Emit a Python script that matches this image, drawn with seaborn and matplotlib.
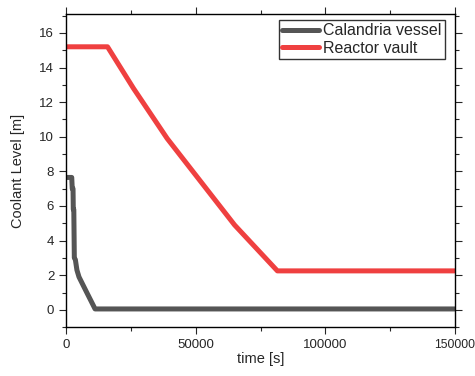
import matplotlib
matplotlib.use("Agg")
import matplotlib.pyplot as plt
import seaborn as sns
import pandas as pd
from matplotlib.ticker import MultipleLocator

sns.set_style("ticks")
plt.rcParams['font.family'] = ['Liberation Sans', 'DejaVu Sans']

cal_t = [0, 2200, 2400, 2700, 2800, 3000, 3200, 3600, 4200, 5000, 8000, 11200, 150000]
cal_y = [7.65, 7.65, 7.0, 7.0, 5.8, 5.8, 3.0, 2.9, 2.3, 1.9, 1.0, 0.05, 0.05]
vault_t = [0, 16000, 26000, 39000, 52000, 65000, 81500, 150000]
vault_y = [15.2, 15.2, 12.8, 9.9, 7.4, 4.9, 2.25, 2.25]

df = pd.concat([
    pd.DataFrame({"time": cal_t, "level": cal_y, "series": "Calandria vessel"}),
    pd.DataFrame({"time": vault_t, "level": vault_y, "series": "Reactor vault"}),
])

fig = plt.figure(figsize=(4.75, 3.76), dpi=100)
ax = fig.add_axes([0.139, 0.130, 0.819, 0.833])
sns.lineplot(data=df, x="time", y="level", hue="series",
             palette={"Calandria vessel": "#555555", "Reactor vault": "#ef4040"},
             linewidth=3.6, ax=ax, estimator=None, sort=False)

ax.set_xlim(0, 150000)
ax.set_ylim(-1, 17.1)
ax.xaxis.set_major_locator(MultipleLocator(50000))
ax.xaxis.set_minor_locator(MultipleLocator(25000))
ax.yaxis.set_major_locator(MultipleLocator(2))
ax.yaxis.set_minor_locator(MultipleLocator(1))
ax.tick_params(which="both", top=True, right=True, direction="out", labelsize=9.5, width=0.8)
ax.tick_params(which="major", length=5)
ax.tick_params(which="minor", length=3)
for s in ax.spines.values():
    s.set_linewidth(1.0)
    s.set_color("black")
ax.set_xlabel("time [s]", fontsize=10.5, labelpad=1)
ax.set_ylabel("Coolant Level [m]", fontsize=10.5, labelpad=10)

fig.canvas.draw()
for t in ax.xaxis.get_major_ticks():
    if t.label1.get_text() == "150000":
        t.label1.set_fontsize(8.7)

leg = ax.legend(loc="upper right", bbox_to_anchor=(0.99, 1.0), fontsize=11.5,
                frameon=True, fancybox=False, edgecolor="black",
                handlelength=2.3, handletextpad=0.25, borderaxespad=0.4,
                labelspacing=0.15, borderpad=0.2)
leg.get_frame().set_linewidth(1.0)

fig.savefig("out.png", dpi=100)
